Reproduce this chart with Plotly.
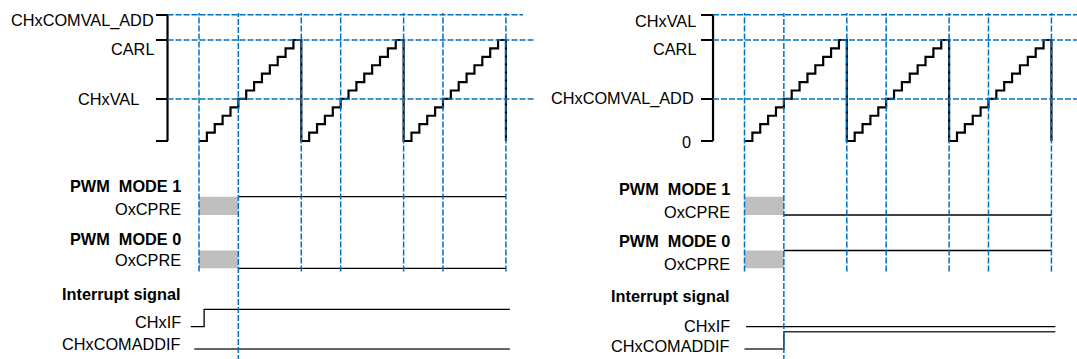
import plotly.graph_objects as go

# ---------------- data ----------------
# counter value at each timer tick (3 PWM periods, CARL = 12, then reload to 0)
counter_ticks = [0, 1, 2, 3, 4, 5, 6, 7, 8, 9, 10, 11, 12,
                 13, 14, 15, 16, 17, 18, 19, 20, 21, 22, 23, 24, 25,
                 26, 27, 28, 29, 30, 31, 32, 33, 34, 35, 36, 37, 38, 39]
counter_values = [0, 1, 2, 3, 4, 5, 6, 7, 8, 9, 10, 11, 12,
                  0, 1, 2, 3, 4, 5, 6, 7, 8, 9, 10, 11, 12,
                  0, 1, 2, 3, 4, 5, 6, 7, 8, 9, 10, 11, 12, 0]

# levels on the counter axis
level_values = [15, 12, 5, 0]
left_level_labels = ["CHxCOMVAL_ADD", "CARL", "CHxVAL", ""]
right_level_labels = ["CHxVAL", "CARL", "CHxCOMVAL_ADD", "0"]
ref_levels = [15, 12, 5]          # dashed horizontal reference levels

# ticks where events happen (dashed vertical markers)
event_ticks = [0, 5, 13, 18, 26, 31, 39]
long_event_tick = 5               # marker running down through the interrupt rows
unknown_window = [0, 5]           # OxCPRE undefined before first match

# digital signals: (times, levels)
left_mode1_t, left_mode1_v = [5, 39], [1, 1]
left_mode0_t, left_mode0_v = [5, 39], [0, 0]
left_chxif_t, left_chxif_v = [-1.05, 0.65, 39.5], [0, 1, 1]
left_comadd_t, left_comadd_v = [-0.6, 39.5], [0, 0]

right_mode1_t, right_mode1_v = [5, 39], [0, 0]
right_mode0_t, right_mode0_v = [5, 39], [1, 1]
right_chxif_t, right_chxif_v = [0.2, 39.5], [0, 0]
right_comadd_t, right_comadd_v = [0, 5, 39.5], [0, 1, 1]

# ---------------- layout constants ----------------
W, H = 1077, 359
PX_PER_TICK = 7.87
T0_PX = [199.0, 744.5]            # pixel x of tick 0 for left / right panel
PANEL_PX = [(0, 540), (540, W)]
COUNTER0_PY = 141.0
PX_PER_COUNT = 8.417
AXIS_T = -4.0
FONT = "Liberation Sans, Arial, sans-serif"
FS = 16.3
BLUE = "#0070C0"
DASH = "6px,2px"

def py_to_count(py):
    return (COUNTER0_PY - py) / PX_PER_COUNT

def px_to_t(px, panel):
    return (px - T0_PX[panel]) / PX_PER_TICK

# signal rows: baseline (low level) in lane px, amplitude of a high
ROW_BASE = {"mode1": 215.0, "mode0": 268.3, "chxif": 326.7, "comadd": 349.0}
ROW_AMP = {"mode1": 18.3, "mode0": 17.8, "chxif": 17.4, "comadd": 17.3}

fig = go.Figure()

panels = [
    dict(x="x", y="y", ys="y3", labels=left_level_labels,
         signals=[("mode1", left_mode1_t, left_mode1_v, 1.3, "#000000"),
                  ("mode0", left_mode0_t, left_mode0_v, 1.3, "#000000"),
                  ("chxif", left_chxif_t, left_chxif_v, 1.3, "#000000"),
                  ("comadd", left_comadd_t, left_comadd_v, 1.6, "#333333")],
         hline_end_px=[523, 535, 535]),
    dict(x="x2", y="y2", ys="y4", labels=right_level_labels,
         signals=[("mode1", right_mode1_t, right_mode1_v, 1.3, "#000000"),
                  ("mode0", right_mode0_t, right_mode0_v, 1.3, "#000000"),
                  ("chxif", right_chxif_t, right_chxif_v, 1.3, "#000000"),
                  ("comadd", right_comadd_t, right_comadd_v, 1.6, "#333333")],
         hline_end_px=[W, W, W]),
]

shapes = []
annotations = []

for i, p in enumerate(panels):
    # counter staircase
    fig.add_trace(go.Scatter(x=counter_ticks, y=counter_values, mode="lines",
                             line=dict(shape="hv", color="black", width=2.2),
                             xaxis=p["x"], yaxis=p["y"], hoverinfo="skip", showlegend=False))
    # counter axis line
    fig.add_trace(go.Scatter(x=[AXIS_T, AXIS_T], y=[min(level_values), max(level_values)],
                             mode="lines", line=dict(color="black", width=2.2),
                             xaxis=p["x"], yaxis=p["y"], hoverinfo="skip", showlegend=False))
    # undefined OxCPRE windows
    for row in ("mode1", "mode0"):
        lo = ROW_BASE[row]
        hi = lo - ROW_AMP[row]
        a, b = unknown_window
        fig.add_trace(go.Scatter(x=[a, b, b, a, a], y=[lo, lo, hi, hi, lo], mode="lines",
                                 fill="toself", fillcolor="#BFBFBF", line=dict(width=0),
                                 xaxis=p["x"], yaxis=p["ys"], hoverinfo="skip", showlegend=False))
    # digital signals
    for row, ts, vs, lw, col in p["signals"]:
        ys = [ROW_BASE[row] - v * ROW_AMP[row] for v in vs]
        fig.add_trace(go.Scatter(x=ts, y=ys, mode="lines",
                                 line=dict(shape="hv", color=col, width=lw),
                                 xaxis=p["x"], yaxis=p["ys"], hoverinfo="skip", showlegend=False))
    # horizontal dashed reference lines
    for lvl, end_px in zip(ref_levels, p["hline_end_px"]):
        shapes.append(dict(type="line", xref=p["x"], yref=p["y"],
                           x0=AXIS_T, x1=px_to_t(end_px, i), y0=lvl, y1=lvl,
                           line=dict(color=BLUE, width=1.5, dash=DASH), layer="above"))
    # vertical dashed event markers
    for t in event_ticks:
        bottom = py_to_count(H + 2) if t == long_event_tick else py_to_count(271.5)
        shapes.append(dict(type="line", xref=p["x"], yref=p["y"],
                           x0=t, x1=t, y0=bottom, y1=15.2,
                           line=dict(color=BLUE, width=1.5, dash=DASH), layer="above"))

# ---- axes ----
def xrange(panel):
    a, b = PANEL_PX[panel]
    return [px_to_t(a, panel), px_to_t(b, panel)]

yr = [py_to_count(H), py_to_count(0)]
axis_px = [T0_PX[0] + AXIS_T * PX_PER_TICK, T0_PX[1] + AXIS_T * PX_PER_TICK]

common_y = dict(range=yr, showgrid=False, zeroline=False, showticklabels=False,
                tickmode="array", tickvals=level_values, ticks="outside",
                ticklen=12, tickwidth=2.2, tickcolor="black", showline=False,
                domain=[0, 1], fixedrange=True)

fig.update_layout(
    width=W, height=H, autosize=False,
    margin=dict(l=0, r=0, t=0, b=0, pad=0),
    paper_bgcolor="white", plot_bgcolor="white",
    showlegend=False, hovermode=False,
    font=dict(family=FONT, size=FS, color="black"),
    xaxis=dict(domain=[PANEL_PX[0][0] / W, PANEL_PX[0][1] / W], range=xrange(0), visible=False,
               fixedrange=True),
    xaxis2=dict(domain=[PANEL_PX[1][0] / W, PANEL_PX[1][1] / W], range=xrange(1), visible=False,
                fixedrange=True),
    yaxis=dict(anchor="free", position=axis_px[0] / W, **common_y),
    yaxis2=dict(anchor="free", position=axis_px[1] / W, **common_y),
    yaxis3=dict(overlaying="y", anchor="x", range=[H, 0], visible=False, domain=[0, 1]),
    yaxis4=dict(overlaying="y2", anchor="x2", range=[H, 0], visible=False, domain=[0, 1]),
)

# ---- level labels ----
label_right_px = [[156, 156, 141, 141], [697.5, 697.5, 696, 692.5]]
label_yshift = [-6, -9, 0, -1]
for i, p in enumerate(panels):
    for lvl, txt, rx, ysh in zip(level_values, p["labels"], label_right_px[i], label_yshift):
        if not txt:
            continue
        annotations.append(dict(text=txt, xref="paper", yref=p["y"], x=rx / W, y=lvl,
                                xanchor="right", yanchor="middle", yshift=ysh,
                                showarrow=False, font=dict(family=FONT, size=FS, color="black")))

# ---- signal labels ----
sig_texts = ["<b>PWM\u00a0 MODE 1</b>", "OxCPRE", "<b>PWM\u00a0 MODE 0</b>", "OxCPRE",
             "<b>Interrupt signal</b>", "CHxIF", "CHxCOMADDIF"]
sig_label_py = [[186, 209.5, 238.5, 260, 293.5, 321.5, 344],
                [189, 212, 241, 263.5, 295.5, 326, 346]]
sig_label_right_px = [183, 732]
for i in range(2):
    for txt, py in zip(sig_texts, sig_label_py[i]):
        annotations.append(dict(text=txt, xref="paper", yref="paper",
                                x=sig_label_right_px[i] / W, y=1 - py / H,
                                xanchor="right", yanchor="middle", showarrow=False,
                                font=dict(family=FONT, size=FS, color="black")))

fig.update_layout(shapes=shapes, annotations=annotations)
fig.write_html("out.html",
               config={"displayModeBar": False, "staticPlot": True},
               post_script="document.body.style.margin='0';document.body.style.overflow='hidden';")
